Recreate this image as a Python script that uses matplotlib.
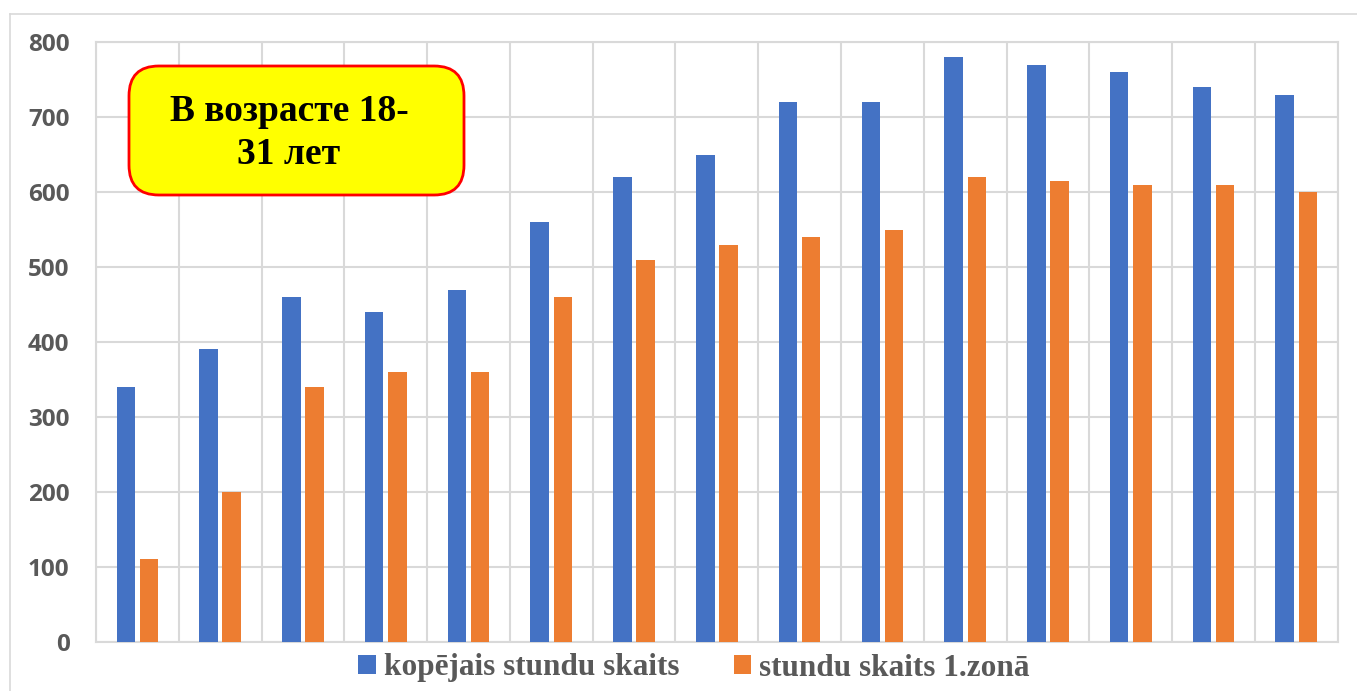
import matplotlib
matplotlib.use("Agg")
import matplotlib.pyplot as plt
from matplotlib.patches import Patch, FancyBboxPatch
from matplotlib.lines import Line2D
import numpy as np

categories = [str(i) for i in range(1, 16)]
total_hours = [340, 390, 460, 440, 470, 560, 620, 650, 720, 720, 780, 770, 760, 740, 730]
zone1_hours = [110, 200, 340, 360, 360, 460, 510, 530, 540, 550, 620, 615, 610, 610, 600]
series_names = ["kopējais stundu skaits", "stundu skaits 1.zonā"]
y_ticks = [0, 100, 200, 300, 400, 500, 600, 700, 800]
box_text = "В возрасте 18-\n31 лет"

BLUE = "#4472C4"
ORANGE = "#ED7D31"
GRID = "#D9D9D9"
TXT = "#595959"

W, H = 1357, 691
fig = plt.figure(figsize=(W / 100, H / 100), dpi=100)

# outer chart border (top and left visible)
fig.add_artist(Line2D([10 / W, 1.0], [1 - 14 / H, 1 - 14 / H], transform=fig.transFigure,
                      color=GRID, lw=1.2))
fig.add_artist(Line2D([10 / W, 10 / W], [0, 1 - 14 / H], transform=fig.transFigure,
                      color=GRID, lw=1.2))

left, right, top, bottom = 96, 1337.7, 42.3, 641.7
ax = fig.add_axes([left / W, 1 - bottom / H, (right - left) / W, (bottom - top) / H])

x = np.arange(len(categories))
bw = 0.224
ax.bar(x - 0.14, total_hours, width=bw, color=BLUE, zorder=3)
ax.bar(x + 0.14, zone1_hours, width=bw, color=ORANGE, zorder=3)

ax.set_xlim(-0.5, len(categories) - 0.5)
ax.set_ylim(0, 800)
ax.set_yticks(y_ticks)
ax.set_yticklabels([str(v) for v in y_ticks], fontsize=17.5, fontweight="bold",
                   color=TXT, family="Open Sans")
ax.set_xticks([])
ax.set_xticks(np.arange(len(categories) + 1) - 0.5, minor=True)
ax.tick_params(axis="y", length=0, pad=19)
ax.tick_params(axis="x", which="both", length=0, labelbottom=False)
ax.grid(axis="y", color=GRID, lw=1.5, zorder=0)
ax.grid(axis="x", which="minor", color=GRID, lw=1.5, zorder=0)
for s in ax.spines.values():
    s.set_color(GRID)
    s.set_linewidth(1.5)

# annotation box
bx0, bx1, by0, by1 = 129, 464, 66, 195
box = FancyBboxPatch((bx0 / W, 1 - by1 / H), (bx1 - bx0) / W, (by1 - by0) / H,
                     boxstyle="round,pad=0,rounding_size=0.022",
                     transform=fig.transFigure, facecolor="#FFFF00",
                     edgecolor="#FF0000", lw=2, zorder=10, mutation_aspect=W / H)
fig.add_artist(box)
fig.text(289 / W, 1 - 133 / H, box_text, ha="center", va="center",
         multialignment="center", fontsize=27, fontweight="bold",
         family="Liberation Serif", color="black", linespacing=1.3, zorder=11)

handles = [Patch(facecolor=BLUE, edgecolor="none"), Patch(facecolor=ORANGE, edgecolor="none")]
fig.legend(handles, series_names, loc="center", bbox_to_anchor=(694 / W, 1 - 668 / H),
           ncol=2, frameon=False, handlelength=0.56, handleheight=0.56,
           handletextpad=0.26, columnspacing=1.73,
           prop={"family": "Liberation Serif", "weight": "bold", "size": 22.5},
           labelcolor=TXT)

fig.savefig("out.png", dpi=100)
